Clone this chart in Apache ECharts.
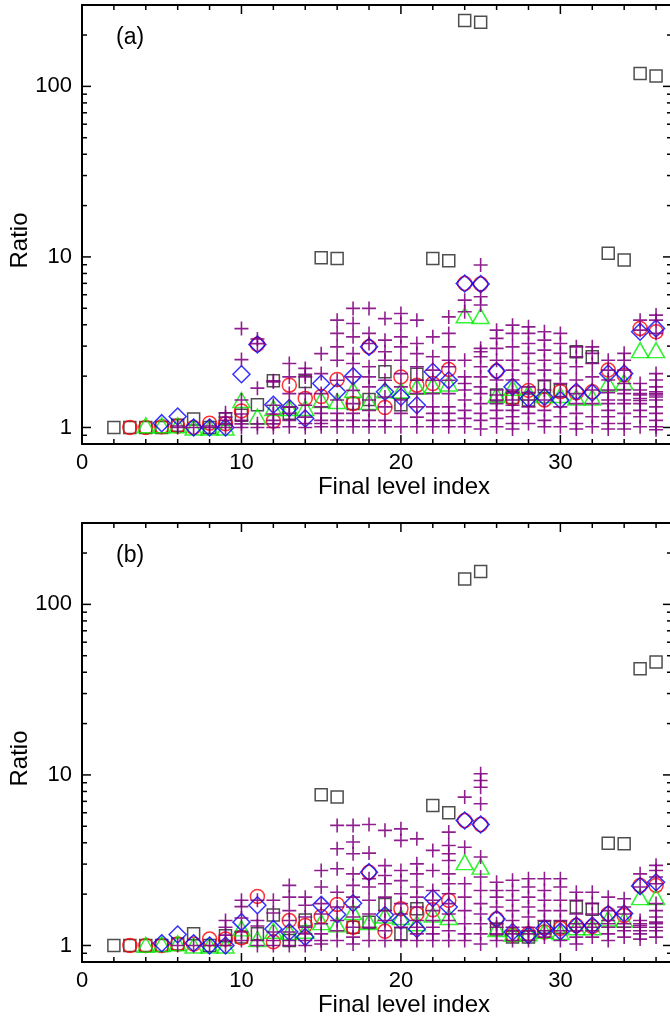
<!doctype html>
<html lang="en">
<head>
    <meta charset="UTF-8">
    <title>Ratio vs final level index</title>
    <script src="https://cdn.jsdelivr.net/npm/echarts@6/dist/echarts.min.js"></script>
    <style>
        html, body { margin: 0; padding: 0; background: #fff; }
    </style>
</head>
<body>
<div id="main" style="width:670px; height:1021px;"></div>

<script>
    // final level index, 2..36
    var levels = [2, 3, 4, 5, 6, 7, 8, 9, 10, 11, 12, 13, 14, 15, 16, 17, 18, 19,
        20, 21, 22, 23, 24, 25, 26, 27, 28, 29, 30, 31, 32, 33, 34, 35, 36];

    // ---- panel (a) ----
    var squaresA = [1.0, 1.0, 1.0, 1.0, 1.03, 1.12, 1.0, 1.12, 1.18, 1.36, 1.88, 1.21, 1.86, 9.9, 9.8, 1.38, 1.46, 2.12,
        1.36, 2.05, 9.8, 9.5, 243, 238, 1.55, 1.5, 1.45, 1.73, 1.65, 2.78, 2.6, 10.5, 9.6, 119, 115];
    var circlesA = [null, 1.0, 1.0, 1.01, 1.02, 1.0, 1.06, 1.05, 1.25, 3.07, 1.09, 1.77, 1.48, 1.52, 1.91, 1.38, 2.97, 1.31,
        1.98, 1.77, 1.81, 2.19, 6.98, 6.93, 2.14, 1.48, 1.65, 1.45, 1.62, 1.6, 1.62, 2.17, 2.03, 3.81, 3.64];
    var diamondsA = [null, null, null, 1.06, 1.16, 1.0, 1.0, 1.0, 2.05, 3.07, 1.36, 1.3, 1.13, 1.81, 1.62, 2.0, 2.97, 1.62,
        1.51, 1.35, 2.12, 1.89, 6.98, 6.93, 2.14, 1.73, 1.48, 1.51, 1.45, 1.62, 1.6, 2.07, 2.07, 3.64, 3.81];
    var trianglesA = [null, null, 1.03, 1.03, 1.03, 1.0, 1.0, 1.0, 1.45, 1.16, 1.3, 1.3, 1.3, 1.45, 1.43, 1.66, 1.41, 1.65,
        1.65, 1.73, 1.77, 1.81, 4.55, 4.5, 1.55, 1.71, 1.6, 1.55, 1.55, 1.5, 1.5, 1.81, 1.85, 2.84, 2.84];
    var plusesA = [
        [], [], [], [],
        [1.0, 1.02],
        [1.0],
        [1.0, 1.02],
        [1.0, 1.05, 1.1, 1.15, 1.22],
        [3.8, 2.5, 1.45, 1.2, 1.1, 1.05, 1.0],
        [3.3, 3.1, 1.7, 1.05, 1.0],
        [1.88, 1.85, 1.35, 1.2, 1.1, 1.05, 1.0],
        [2.37, 1.98, 1.58, 1.32, 1.21, 1.1, 1.01],
        [2.22, 2.05, 1.98, 1.58, 1.35, 1.15, 1.055, 1.0],
        [2.71, 2.07, 1.58, 1.32, 1.21, 1.1, 1.055, 1.01],
        [4.26, 3.56, 2.97, 2.48, 1.89, 1.45, 1.21, 1.1, 1.01],
        [4.99, 4.07, 3.4, 2.71, 2.37, 1.98, 1.65, 1.38, 1.21, 1.1, 1.01],
        [4.99, 3.56, 3.11, 2.27, 1.98, 1.73, 1.45, 1.26, 1.1, 1.01],
        [4.35, 3.25, 2.78, 2.48, 1.89, 1.51, 1.32, 1.1, 1.01],
        [4.66, 4.07, 3.4, 2.97, 2.48, 2.07, 1.73, 1.45, 1.21, 1.01],
        [4.26, 3.11, 2.71, 2.27, 1.89, 1.58, 1.32, 1.15, 1.01],
        [3.4, 2.6, 2.17, 1.89, 1.58, 1.32, 1.21, 1.1, 1.01],
        [4.45, 3.56, 2.97, 2.48, 2.27, 1.89, 1.58, 1.32, 1.21, 1.1, 1.01],
        [5.58, 4.77, 2.48, 1.98, 1.81, 1.66, 1.45, 1.26, 1.13, 1.01],
        [8.96, 5.84, 5.22, 2.91, 2.78, 2.6, 2.27, 1.98, 1.73, 1.58, 1.38, 1.21, 1.1, 0.98],
        [3.72, 3.33, 2.91, 2.48, 1.9, 1.66, 1.55, 1.45, 1.38, 1.26, 1.13, 1.01],
        [3.98, 3.56, 2.97, 2.48, 2.17, 1.9, 1.66, 1.6, 1.45, 1.35, 1.26, 1.155, 1.055, 0.98],
        [3.89, 3.56, 3.11, 2.72, 2.37, 2.07, 1.73, 1.6, 1.45, 1.32, 1.21, 1.055],
        [3.64, 3.25, 2.84, 2.48, 2.17, 1.9, 1.66, 1.45, 1.26, 1.1, 1.01],
        [3.56, 3.11, 2.72, 2.37, 2.07, 1.81, 1.51, 1.32, 1.155, 1.01],
        [2.97, 2.6, 2.27, 1.9, 1.58, 1.38, 1.21, 1.055, 0.98],
        [2.97, 2.72, 2.37, 1.98, 1.66, 1.38, 1.155, 1.01],
        [2.48, 2.17, 1.9, 1.66, 1.6, 1.45, 1.38, 1.26, 1.155, 1.055, 0.98],
        [2.72, 2.48, 2.17, 1.81, 1.66, 1.58, 1.45, 1.38, 1.21, 1.055, 0.98],
        [4.26, 3.72, 1.81, 1.66, 1.58, 1.55, 1.48, 1.44, 1.38, 1.26, 1.155, 1.01],
        [4.56, 4.26, 3.56, 2.07, 1.9, 1.73, 1.62, 1.58, 1.55, 1.51, 1.45, 1.32, 1.21, 1.1, 1.01, 0.97]
    ];

    // ---- panel (b) ----
    var squaresB = [1.0, 1.0, 1.0, 1.0, 1.02, 1.17, 1.0, 1.14, 1.12, 1.17, 1.51, 1.07, 1.41, 7.65, 7.42, 1.28, 1.37, 1.74,
        1.17, 1.64, 6.62, 6.0, 141, 156, 1.25, 1.12, 1.12, 1.28, 1.28, 1.68, 1.63, 3.98, 3.95, 42, 46];
    var circlesB = [null, 1.0, 1.0, 1.0, 1.02, 1.02, 1.09, 1.09, 1.11, 1.94, 1.05, 1.4, 1.31, 1.48, 1.74, 1.28, 2.69, 1.21,
        1.64, 1.53, 1.62, 1.84, 5.4, 5.12, 1.43, 1.15, 1.17, 1.2, 1.26, 1.31, 1.29, 1.53, 1.5, 2.25, 2.25];
    var diamondsB = [null, null, null, 1.03, 1.16, 1.03, 1.0, 1.0, 1.37, 1.72, 1.25, 1.2, 1.12, 1.73, 1.52, 1.77, 2.69, 1.51,
        1.4, 1.25, 1.89, 1.68, 5.4, 5.12, 1.43, 1.2, 1.15, 1.26, 1.21, 1.31, 1.31, 1.53, 1.54, 2.23, 2.35];
    var trianglesB = [null, null, 1.01, 1.02, 1.03, 1.0, 1.0, 1.0, 1.26, 1.09, 1.22, 1.2, 1.22, 1.37, 1.33, 1.57, 1.37, 1.5,
        1.47, 1.35, 1.52, 1.47, 3.08, 2.9, 1.25, 1.17, 1.18, 1.22, 1.2, 1.28, 1.28, 1.44, 1.42, 1.92, 1.92];
    var plusesB = [
        [], [], [], [],
        [1.0],
        [1.0],
        [1.0],
        [1.4, 1.28, 1.15, 1.07, 1.0],
        [1.84, 1.69, 1.45, 1.2, 1.07],
        [1.84, 1.4, 1.3, 1.07, 1.0],
        [1.84, 1.55, 1.2, 1.07, 1.0],
        [2.25, 1.92, 1.6, 1.4, 1.2, 1.07, 1.0],
        [1.92, 1.72, 1.47, 1.28, 1.17, 1.07, 1.0],
        [2.75, 2.2, 1.76, 1.53, 1.34, 1.17, 1.07, 1.02],
        [5.06, 3.69, 2.82, 2.05, 1.68, 1.4, 1.22, 1.07],
        [5.06, 4.04, 3.45, 2.63, 2.25, 1.92, 1.68, 1.47, 1.28, 1.12, 1.02],
        [5.12, 3.48, 2.46, 2.2, 1.84, 1.53, 1.28, 1.07],
        [4.73, 2.94, 2.57, 2.3, 1.92, 1.6, 1.4, 1.22, 1.07],
        [4.83, 4.13, 2.75, 2.4, 2.01, 1.76, 1.53, 1.28, 1.07],
        [4.22, 3.01, 2.63, 2.2, 1.92, 1.68, 1.4, 1.28, 1.17, 1.07],
        [3.61, 2.75, 2.1, 1.84, 1.6, 1.4, 1.28, 1.17, 1.07],
        [4.62, 3.86, 3.45, 3.15, 2.63, 2.3, 2.01, 1.76, 1.53, 1.4, 1.22, 1.07],
        [7.41, 3.77, 2.3, 1.92, 1.6, 1.34, 1.17, 1.07],
        [10.15, 9.27, 8.47, 6.77, 3.3, 2.52, 2.1, 1.76, 1.53, 1.34, 1.17, 1.02],
        [2.35, 2.1, 1.92, 1.68, 1.34, 1.28, 1.17, 1.07],
        [2.41, 2.1, 1.84, 1.6, 1.4, 1.28, 1.22, 1.17, 1.07],
        [2.46, 2.2, 1.92, 1.68, 1.47, 1.28, 1.22, 1.17, 1.07],
        [2.46, 2.1, 1.84, 1.6, 1.4, 1.22, 1.17, 1.12],
        [2.46, 2.2, 1.84, 1.6, 1.4, 1.22, 1.07],
        [2.05, 1.84, 1.53, 1.34, 1.28, 1.22, 1.12, 1.02],
        [2.05, 1.76, 1.53, 1.34, 1.28, 1.22, 1.12],
        [1.92, 1.6, 1.4, 1.34, 1.28, 1.17, 1.07],
        [1.88, 1.68, 1.53, 1.34, 1.28, 1.22, 1.12],
        [2.63, 2.2, 1.4, 1.34, 1.31, 1.28, 1.22, 1.17, 1.09],
        [2.95, 2.75, 2.52, 2.3, 1.76, 1.6, 1.47, 1.37, 1.34, 1.28, 1.22, 1.12]
    ];

    // axis settings and tick positions
    var xMin = 0, xMax = 37, yMin = 0.8, yMax = 300;
    var yLabels = [1, 10, 100];
    var xMajorTicks = [10, 20, 30];
    var xMinorTicks = [2, 4, 6, 8, 12, 14, 16, 18, 22, 24, 26, 28, 32, 34, 36];
    var yMajorTicks = [1, 10, 100];
    var yMinorTicks = [0.9, 2, 3, 4, 5, 6, 7, 8, 9, 20, 30, 40, 50, 60, 70, 80, 90, 200];
    var MAJOR_LEN = 9, MINOR_LEN = 5;

    var FONT = 'Liberation Sans, Arial, sans-serif';

    function pairs(vals) {
        var out = [];
        for (var i = 0; i < levels.length; i++) {
            if (vals[i] != null) out.push([levels[i], vals[i]]);
        }
        return out;
    }

    function plusPairs(lists) {
        var out = [];
        for (var i = 0; i < levels.length; i++) {
            for (var j = 0; j < lists[i].length; j++) out.push([levels[i], lists[i][j]]);
        }
        return out;
    }

    function openSeries(name, symbol, size, color, data, xi, yi) {
        return {
            name: name, type: 'scatter', xAxisIndex: xi, yAxisIndex: yi,
            symbol: symbol, symbolSize: size,
            itemStyle: {color: 'rgba(0,0,0,0)', borderColor: color, borderWidth: 1.5},
            emphasis: {disabled: true},
            data: data
        };
    }

    var tickStyle = {stroke: '#000', lineWidth: 1.5};

    // inward ticks on all four sides, placed through the axes' own scales
    function tickSeries(xi, yi) {
        var yData = yMajorTicks.map(function (v) { return [xMin, v, MAJOR_LEN]; })
            .concat(yMinorTicks.map(function (v) { return [xMin, v, MINOR_LEN]; }));
        var xData = xMajorTicks.map(function (v) { return [v, yMin, MAJOR_LEN]; })
            .concat(xMinorTicks.map(function (v) { return [v, yMin, MINOR_LEN]; }));
        return [{
            type: 'custom', xAxisIndex: xi, yAxisIndex: yi, silent: true, clip: false, z: 5,
            data: yData,
            renderItem: function (params, api) {
                var v = api.value(1), len = api.value(2);
                var l = api.coord([xMin, v]);
                var r = api.coord([xMax, v]);
                return {
                    type: 'group', children: [
                        {type: 'line', shape: {x1: l[0], y1: l[1], x2: l[0] + len, y2: l[1]}, style: tickStyle},
                        {type: 'line', shape: {x1: r[0] - len, y1: r[1], x2: r[0], y2: r[1]}, style: tickStyle}
                    ]
                };
            }
        }, {
            type: 'custom', xAxisIndex: xi, yAxisIndex: yi, silent: true, clip: false, z: 5,
            data: xData,
            renderItem: function (params, api) {
                var v = api.value(0), len = api.value(2);
                var b = api.coord([v, yMin]);
                var t = api.coord([v, yMax]);
                return {
                    type: 'group', children: [
                        {type: 'line', shape: {x1: b[0], y1: b[1], x2: b[0], y2: b[1] - len}, style: tickStyle},
                        {type: 'line', shape: {x1: t[0], y1: t[1], x2: t[0], y2: t[1] + len}, style: tickStyle}
                    ]
                };
            }
        }];
    }

    function panelSeries(sq, ci, di, tr, pl, xi, yi) {
        return [
            openSeries('square', 'rect', 12, '#222', pairs(sq), xi, yi),
            openSeries('circle', 'circle', 14, '#ff0000', pairs(ci), xi, yi),
            openSeries('triangle', 'triangle', [17, 15], '#00ee00', pairs(tr), xi, yi),
            openSeries('diamond', 'diamond', 17, '#0000ff', pairs(di), xi, yi),
            {
                name: 'plus', type: 'scatter', xAxisIndex: xi, yAxisIndex: yi,
                symbol: 'path://M0,7L14,7M7,0L7,14', symbolSize: 14,
                itemStyle: {color: 'rgba(0,0,0,0)', borderColor: '#800080', borderWidth: 1.6, opacity: 0.88},
                emphasis: {disabled: true},
                data: plusPairs(pl)
            }
        ].concat(tickSeries(xi, yi));
    }

    function xAxes(gi) {
        var base = {
            gridIndex: gi, type: 'value', min: xMin, max: xMax, interval: 10,
            axisLine: {show: true, onZero: false, lineStyle: {color: '#000', width: 2}},
            axisTick: {show: false},
            minorTick: {show: false},
            splitLine: {show: false}
        };
        var bottom = Object.assign({}, base, {
            position: 'bottom',
            axisLabel: {fontSize: 22, color: '#000', fontFamily: FONT, margin: 8, showMaxLabel: false},
            name: 'Final level index', nameLocation: 'middle', nameGap: 31, nameMoveOverlap: false,
            nameTextStyle: {fontSize: 24, color: '#000', fontFamily: FONT, padding: [0, 0, 0, 54]}
        });
        var top = Object.assign({}, base, {position: 'top', axisLabel: {show: false}});
        return [bottom, top];
    }

    function yAxes(gi) {
        var base = {
            gridIndex: gi, type: 'log', logBase: 10, min: yMin, max: yMax,
            axisLine: {show: true, onZero: false, lineStyle: {color: '#000', width: 2}},
            axisTick: {show: false},
            splitLine: {show: false}
        };
        var left = Object.assign({}, base, {
            position: 'left',
            axisLabel: {
                fontSize: 22, color: '#000', fontFamily: FONT, margin: 10,
                showMinLabel: false, showMaxLabel: false,
                formatter: function (v) {
                    var r = Math.round(v * 1000) / 1000;
                    return yLabels.indexOf(r) >= 0 ? String(r) : '';
                }
            },
            name: 'Ratio', nameLocation: 'middle', nameGap: 50, nameMoveOverlap: false,
            nameTextStyle: {fontSize: 24, color: '#000', fontFamily: FONT, padding: [0, 32, 0, 0]}
        });
        var right = Object.assign({}, base, {position: 'right', axisLabel: {show: false}});
        return [left, right];
    }

    var myChart = echarts.init(document.getElementById('main'), null, {renderer: 'canvas'});
    myChart.setOption({
        animation: false,
        backgroundColor: '#fff',
        title: [
            {text: '(a)', left: 116, top: 26, padding: 0,
                textStyle: {fontSize: 23, fontWeight: 'normal', color: '#000', fontFamily: FONT}},
            {text: '(b)', left: 116, top: 544, padding: 0,
                textStyle: {fontSize: 23, fontWeight: 'normal', color: '#000', fontFamily: FONT}}
        ],
        grid: [
            {left: 82, top: 5, width: 590, height: 439, outerBoundsMode: 'none', containLabel: false},
            {left: 82, top: 523, width: 590, height: 439, outerBoundsMode: 'none', containLabel: false}
        ],
        xAxis: xAxes(0).concat(xAxes(1)),
        yAxis: yAxes(0).concat(yAxes(1)),
        series: panelSeries(squaresA, circlesA, diamondsA, trianglesA, plusesA, 0, 0)
            .concat(panelSeries(squaresB, circlesB, diamondsB, trianglesB, plusesB, 2, 2))
    });
</script>
</body>
</html>
